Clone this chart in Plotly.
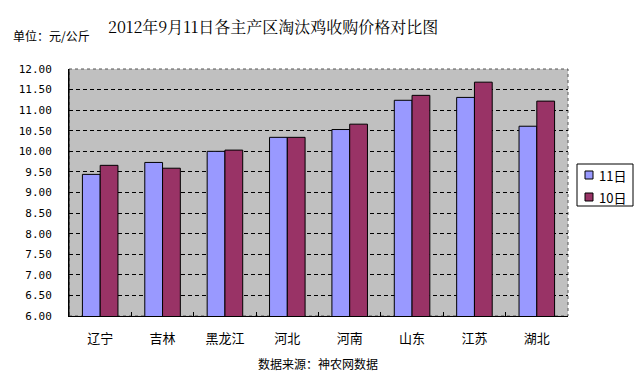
import plotly.graph_objects as go

categories = ["辽宁", "吉林", "黑龙江", "河北", "河南", "山东", "江苏", "湖北"]
series_names = ["11日", "10日"]
values_11 = [9.44, 9.73, 10.00, 10.34, 10.53, 11.24, 11.31, 10.61]
values_10 = [9.66, 9.59, 10.03, 10.34, 10.66, 11.36, 11.68, 11.22]
y_ticks = [6.0 + 0.5 * i for i in range(13)]
y_tick_labels = [f"{v:.2f}" for v in y_ticks]

title_text = "2012年9月11日各主产区淘汰鸡收购价格对比图"
unit_text = "单位：元/公斤"
source_text = "数据来源：神农网数据"

colors = ["#9999FF", "#993366"]
cjk = "Noto Sans CJK SC"

W, H = 637, 375
L, R, T, B = 69, 69, 69, 59
PW, PH = W - L - R, H - T - B


def px_x(px):
    return (px - L) / PW


def px_y(py):
    return (H - B - py) / PH


fig = go.Figure()
for name, vals, col in zip(series_names, [values_11, values_10], colors):
    fig.add_trace(go.Bar(
        x=categories, y=vals, name=name,
        marker=dict(color=col, line=dict(color="#000000", width=1)),
    ))

fig.update_layout(
    width=W, height=H,
    margin=dict(l=L, r=R, t=T, b=B),
    paper_bgcolor="white",
    plot_bgcolor="#C0C0C0",
    barmode="group",
    bargap=0.43,
    bargroupgap=0,
    showlegend=False,
    font=dict(family=cjk, color="#000000"),
)

fig.update_xaxes(
    showline=True, linecolor="#000000", linewidth=1,
    ticks="inside", tickson="boundaries", ticklen=4, tickcolor="#000000",
    tickfont=dict(family=cjk, size=13, color="#000000"),
    ticklabelstandoff=10,
    showgrid=False,
)
fig.update_yaxes(
    range=[6.0, 12.0],
    tickvals=y_ticks, ticktext=y_tick_labels,
    showline=True, linecolor="#000000", linewidth=1,
    ticks="",
    ticklabelstandoff=14,
    tickfont=dict(family="DejaVu Sans Mono", size=11, color="#000000"),
    showgrid=True, gridcolor="#000000", gridwidth=1, griddash="4px,3px",
    zeroline=False,
)

# dotted border of the plot area
fig.add_shape(type="rect", xref="paper", yref="paper", x0=0, y0=0, x1=1, y1=1,
              line=dict(color="#555555", width=1, dash="dot"), layer="below")
fig.add_shape(type="line", xref="paper", yref="paper", x0=0, y0=0, x1=0, y1=1,
              line=dict(color="#000000", width=1))

# legend box drawn in paper space
fig.add_shape(type="rect", xref="paper", yref="paper",
              x0=px_x(577), x1=px_x(633), y0=px_y(206), y1=px_y(164),
              line=dict(color="#000000", width=1), fillcolor="white")
for i, (name, col) in enumerate(zip(series_names, colors)):
    cy = 175 + 22 * i
    fig.add_shape(type="rect", xref="paper", yref="paper",
                  x0=px_x(585), x1=px_x(593), y0=px_y(cy + 4), y1=px_y(cy - 4),
                  line=dict(color="#000000", width=1), fillcolor=col)
    fig.add_annotation(text=name, xref="paper", yref="paper",
                       x=px_x(597), y=px_y(cy), xanchor="left", yanchor="middle",
                       showarrow=False, font=dict(family=cjk, size=13, color="#000000"))

fig.add_annotation(text=title_text, xref="paper", yref="paper",
                   x=px_x(273), y=px_y(27), xanchor="center", yanchor="middle",
                   showarrow=False,
                   font=dict(family="Noto Serif CJK SC, Noto Sans CJK SC", size=16, color="#000000"))
fig.add_annotation(text=unit_text, xref="paper", yref="paper",
                   x=px_x(11), y=px_y(36), xanchor="left", yanchor="middle",
                   showarrow=False, font=dict(family=cjk, size=12, color="#000000"))
fig.add_annotation(text=source_text, xref="paper", yref="paper",
                   x=px_x(318), y=px_y(363), xanchor="center", yanchor="middle",
                   showarrow=False, font=dict(family=cjk, size=12, color="#000000"))

fig.write_html("out.html", config={"displayModeBar": False},
               post_script="document.body.style.margin='0';document.body.style.overflow='hidden';")
